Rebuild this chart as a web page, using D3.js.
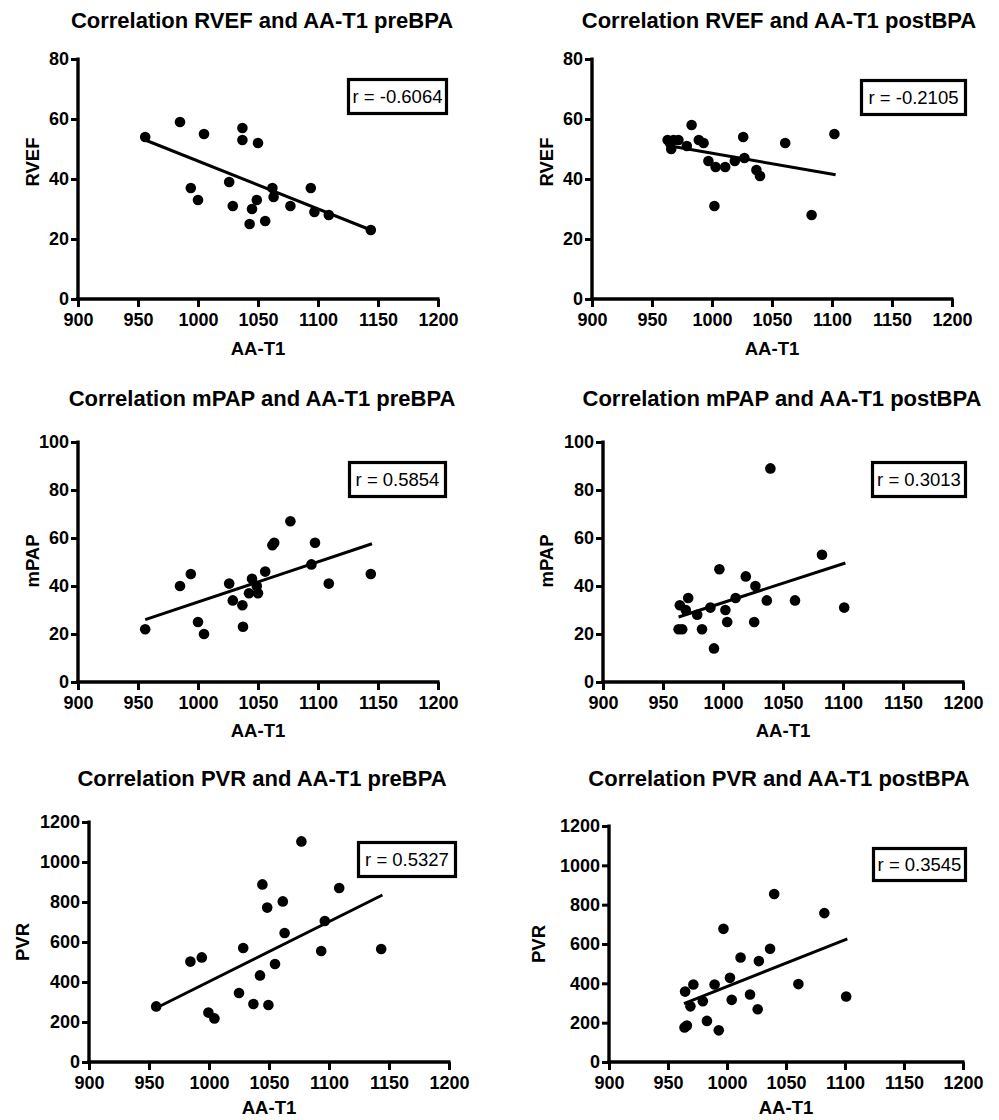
<!DOCTYPE html>
<html>
<head>
<meta charset="utf-8">
<script src="https://cdn.jsdelivr.net/npm/d3@7"></script>
<style>
  html, body { margin: 0; padding: 0; background: #fff; }
  svg { display: block; }
  text { font-family: "Liberation Sans", Arial, Helvetica, sans-serif; fill: #000; }
</style>
</head>
<body>
<svg id="chart" width="999" height="1120"></svg>
<script>
// ---------- DATA ----------
const xTicks = [900, 950, 1000, 1050, 1100, 1150, 1200];
const rvefTicks = [0, 20, 40, 60, 80];
const mpapTicks = [0, 20, 40, 60, 80, 100];
const pvrTicks = [0, 200, 400, 600, 800, 1000, 1200];

const titles = [
  "Correlation RVEF and AA-T1 preBPA",
  "Correlation RVEF and AA-T1 postBPA",
  "Correlation mPAP and AA-T1 preBPA",
  "Correlation mPAP and AA-T1 postBPA",
  "Correlation PVR and AA-T1 preBPA",
  "Correlation PVR and AA-T1 postBPA"
];
const yLabels = ["RVEF", "RVEF", "mPAP", "mPAP", "PVR", "PVR"];
const xLabel = "AA-T1";
const rLabels = ["r = -0.6064", "r = -0.2105", "r = 0.5854", "r = 0.3013", "r = 0.5327", "r = 0.3545"];

// AA-T1 values
const aaPre = [956, 985, 1005, 994, 1000, 1026, 1029, 1037, 1037, 1050, 1043, 1045, 1049, 1056, 1062, 1063, 1077, 1094, 1097, 1109, 1144];
const rvefPre = [54, 59, 55, 37, 33, 39, 31, 57, 53, 52, 25, 30, 33, 26, 37, 34, 31, 37, 29, 28, 23];

const aaPostRvef = [963, 965, 966, 968, 972, 979, 983, 989, 993, 997, 1003, 1002, 1011, 1019, 1026, 1027, 1037, 1040, 1061, 1083, 1102];
const rvefPost = [53, 52, 50, 53, 53, 51, 58, 53, 52, 46, 44, 31, 44, 46, 54, 47, 43, 41, 52, 28, 55];

const aaPreMpap = [956, 985, 994, 1000, 1005, 1026, 1029, 1037, 1037.5, 1042.5, 1045, 1049, 1050, 1056, 1062, 1063.5, 1077, 1094.5, 1097.5, 1109, 1144];
const mpapPre = [22, 40, 45, 25, 20, 41, 34, 32, 23, 37, 43, 40, 37, 46, 57, 58, 67, 49, 58, 41, 45];

const aaPostMpap = [963, 966, 964, 969, 971, 978.5, 982.5, 989.5, 992.5, 997, 1002, 1003.5, 1010.5, 1019, 1026, 1027, 1036.5, 1039.5, 1060, 1082.5, 1101];
const mpapPost = [22, 22, 32, 30, 35, 28, 22, 31, 14, 47, 30, 25, 35, 44, 25, 40, 34, 89, 34, 53, 31];

const aaPrePvr = [956, 984.5, 994, 999.5, 1004.5, 1025, 1028.5, 1037, 1042.5, 1044.5, 1048.5, 1049.5, 1055, 1061.5, 1063, 1077, 1093.5, 1096.5, 1108.5, 1143.5];
const pvrPre = [278, 502, 523, 247, 218, 345, 570, 290, 433, 888, 772, 285, 490, 803, 645, 1103, 555, 705, 870, 565];

const aaPostPvr = [964, 966, 964.5, 969, 971.5, 979.5, 983, 989.5, 993, 997, 1002.5, 1004, 1011.5, 1019.5, 1026, 1027, 1036.5, 1040, 1060.5, 1082.5, 1101];
const pvrPost = [176, 185, 358, 283, 394, 309, 209, 394, 161, 677, 428, 316, 531, 343, 268, 513, 576, 854, 396, 757, 333];

// regression line endpoints [[x0, y0], [x1, y1]]
const fitRvefPre = [[956, 53], [1144, 23]];
const fitRvefPost = [[963, 51.2], [1103, 41.4]];
const fitMpapPre = [[956, 26], [1145, 57.6]];
const fitMpapPost = [[963, 27.1], [1102, 49.6]];
const fitPvrPre = [[956, 270], [1144.5, 835]];
const fitPvrPost = [[963.5, 297], [1102, 626]];

// ---------- LAYOUT ----------
const panels = [
  { xs: aaPre, ys: rvefPre, fit: fitRvefPre, yTicks: rvefTicks, yMax: 80,
    x0: 78, x1: 438, yT: 59, yB: 299, titleY: 28, titleX: 262, ylabX: 32, ylabY: 162, xlabY: 355, box: [347, 78, 101, 37] },
  { xs: aaPostRvef, ys: rvefPost, fit: fitRvefPost, yTicks: rvefTicks, yMax: 80,
    x0: 592, x1: 952, yT: 59, yB: 299, titleY: 28, titleX: 779, ylabX: 546, ylabY: 162, xlabY: 355, box: [860, 79, 107, 37] },
  { xs: aaPreMpap, ys: mpapPre, fit: fitMpapPre, yTicks: mpapTicks, yMax: 100,
    x0: 78, x1: 438, yT: 442, yB: 682, titleY: 406, titleX: 262, ylabX: 32, ylabY: 561, xlabY: 737, box: [348, 461, 99, 37] },
  { xs: aaPostMpap, ys: mpapPost, fit: fitMpapPost, yTicks: mpapTicks, yMax: 100,
    x0: 603, x1: 963, yT: 442, yB: 682, titleY: 406, titleX: 782, ylabX: 546, ylabY: 561, xlabY: 737, box: [871, 461, 96, 37] },
  { xs: aaPrePvr, ys: pvrPre, fit: fitPvrPre, yTicks: pvrTicks, yMax: 1200,
    x0: 89, x1: 449, yT: 822, yB: 1062, titleY: 786, titleX: 262, ylabX: 22, ylabY: 942, xlabY: 1114, box: [357, 841, 100, 37] },
  { xs: aaPostPvr, ys: pvrPost, fit: fitPvrPost, yTicks: pvrTicks, yMax: 1200,
    x0: 609, x1: 963, yT: 826, yB: 1062, titleY: 786, titleX: 779, ylabX: 538, ylabY: 944, xlabY: 1114, box: [872, 847, 95, 35] }
];

const svg = d3.select("#chart");

panels.forEach((p, i) => {
  const g = svg.append("g");
  const x = d3.scaleLinear().domain([900, 1200]).range([p.x0, p.x1]);
  const y = d3.scaleLinear().domain([0, p.yMax]).range([p.yB, p.yT]);

  // title
  g.append("text")
    .attr("x", p.titleX).attr("y", p.titleY)
    .attr("text-anchor", "middle")
    .style("font-size", "22px").style("font-weight", "bold")
    .text(titles[i]);

  // x axis
  const xAxis = d3.axisBottom(x).tickValues(xTicks).tickSize(8).tickPadding(6).tickFormat(d3.format("d"));
  const xa = g.append("g").attr("transform", `translate(0,${p.yB})`).call(xAxis);
  // y axis
  const yAxis = d3.axisLeft(y).tickValues(p.yTicks).tickSize(7).tickPadding(2).tickFormat(d3.format("d"));
  const ya = g.append("g").attr("transform", `translate(${p.x0},0)`).call(yAxis);

  [xa, ya].forEach(a => {
    a.select(".domain").attr("stroke", "#000").attr("stroke-width", 3.4);
    a.selectAll(".tick line").attr("stroke", "#000").attr("stroke-width", 3);
    a.selectAll(".tick text")
      .style("font-family", "'Liberation Sans', Arial, sans-serif")
      .style("font-size", "18px").style("font-weight", "bold").attr("fill", "#000");
  });
  xa.select(".domain").attr("d", `M${p.x0 - 1.7},0H${p.x1 + 1.5}`);
  ya.select(".domain").attr("d", `M0,${p.yT - 1.5}V${p.yB + 1.7}`);

  // x label
  g.append("text")
    .attr("x", (p.x0 + p.x1) / 2).attr("y", p.xlabY)
    .attr("text-anchor", "middle")
    .style("font-size", "18.5px").style("font-weight", "bold")
    .text(xLabel);

  // y label
  g.append("text")
    .attr("transform", `translate(${p.ylabX},${p.ylabY}) rotate(-90)`)
    .attr("text-anchor", "middle")
    .attr("dominant-baseline", "central")
    .style("font-size", "18.5px").style("font-weight", "bold")
    .text(yLabels[i]);

  // fit line
  const line = d3.line().x(d => x(d[0])).y(d => y(d[1]));
  g.append("path").datum(p.fit)
    .attr("d", line).attr("stroke", "#000").attr("stroke-width", 3).attr("fill", "none");

  // points
  g.selectAll("circle.pt").data(p.xs.map((v, k) => [v, p.ys[k]]))
    .enter().append("circle").attr("class", "pt")
    .attr("cx", d => x(d[0])).attr("cy", d => y(d[1]))
    .attr("r", 5.3).attr("fill", "#000");

  // r box
  const [bx, by, bw, bh] = p.box;
  g.append("rect")
    .attr("x", bx + 1.5).attr("y", by + 1.5).attr("width", bw - 3).attr("height", bh - 3)
    .attr("fill", "#fff").attr("stroke", "#000").attr("stroke-width", 3.2);
  g.append("text")
    .attr("x", bx + bw / 2).attr("y", by + bh / 2)
    .attr("text-anchor", "middle").attr("dominant-baseline", "central")
    .style("font-size", "18.5px")
    .text(rLabels[i]);
});
</script>
</body>
</html>
